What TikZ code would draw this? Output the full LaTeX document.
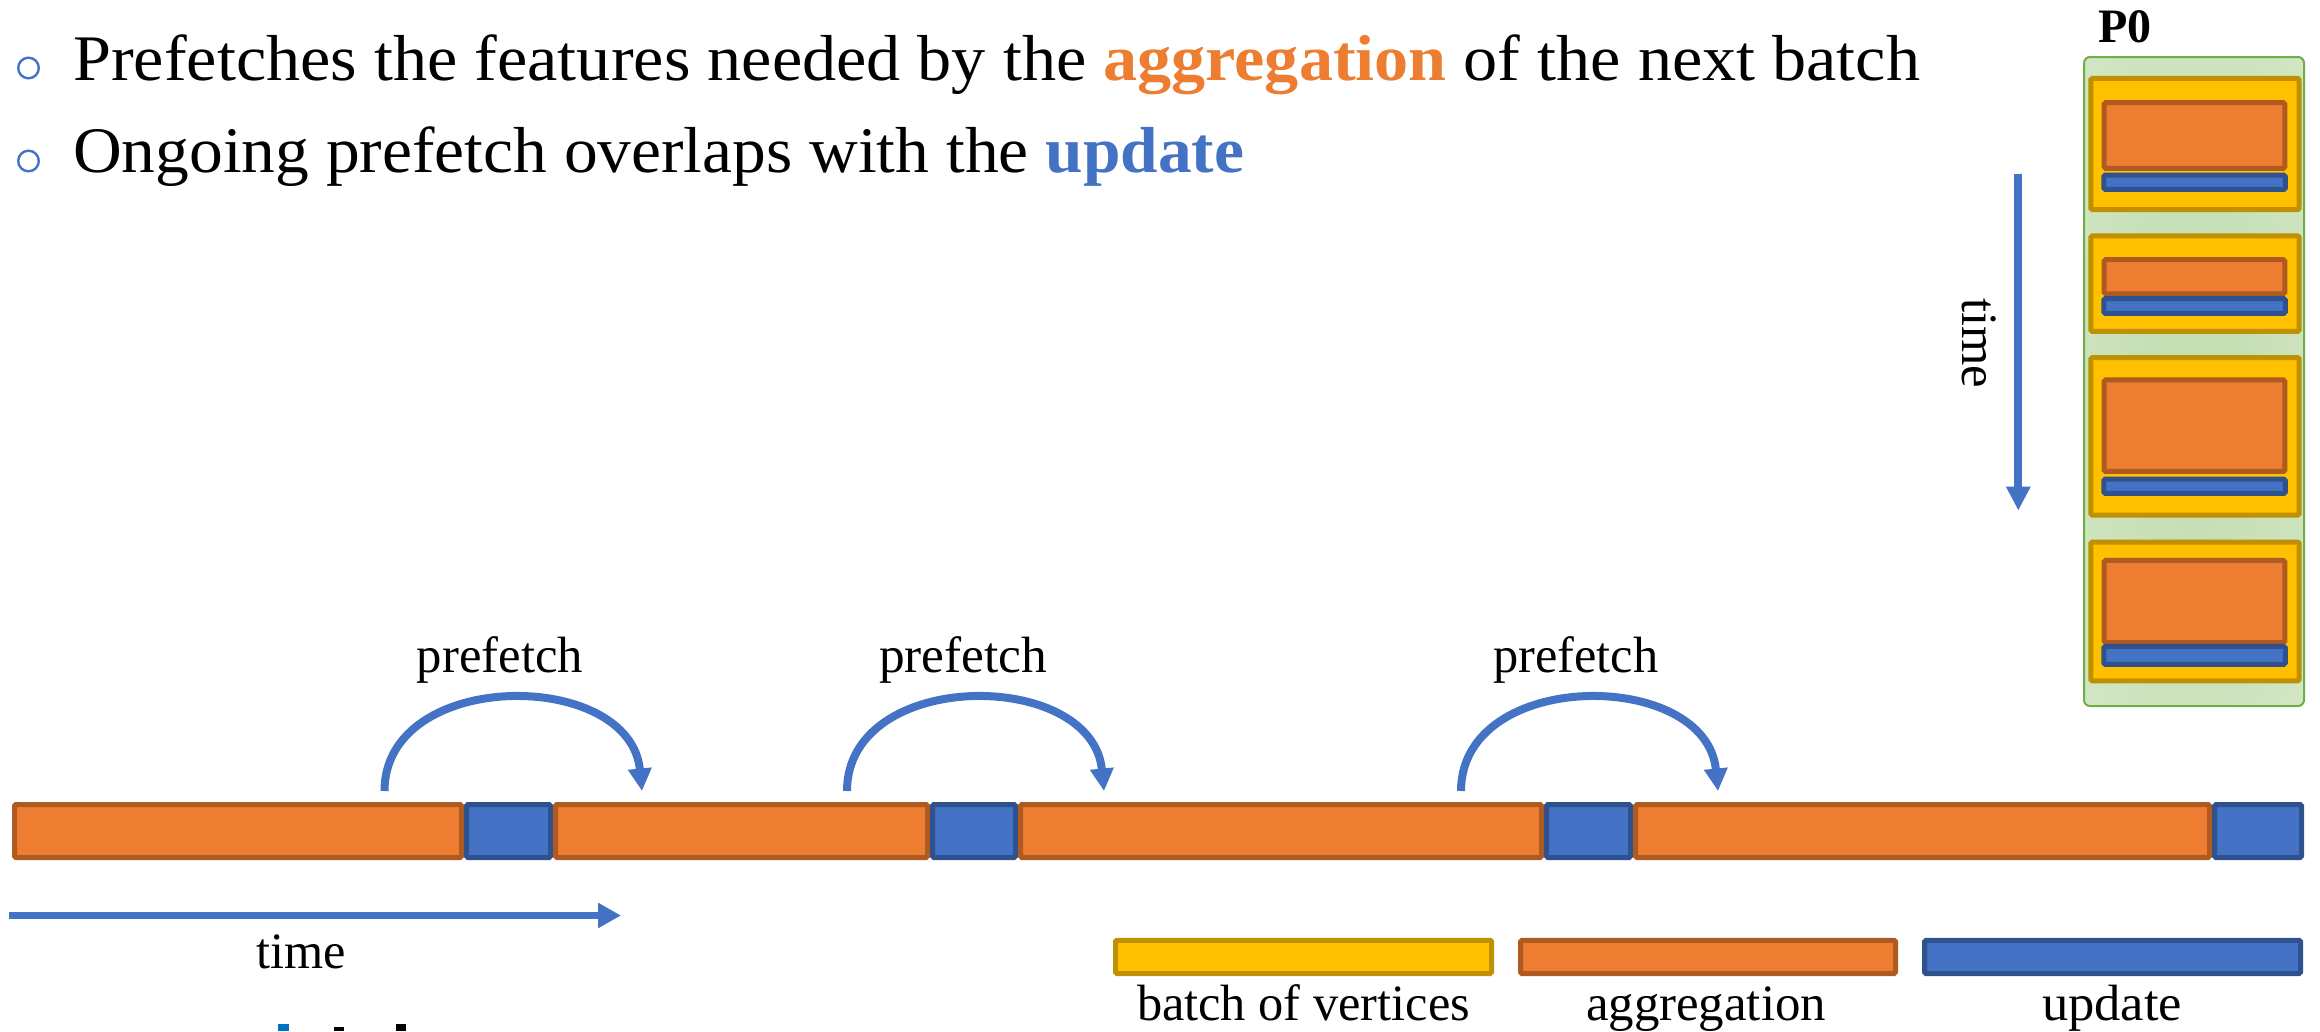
\documentclass[tikz,border=0pt]{standalone}
\usepackage{fontspec}
\setmainfont{Liberation Serif}
\usetikzlibrary{arrows.meta}

\definecolor{aggFill}{HTML}{ED7D31}
\definecolor{aggLine}{HTML}{AE5A21}
\definecolor{updFill}{HTML}{4472C4}
\definecolor{updLine}{HTML}{2F528F}
\definecolor{batFill}{HTML}{FFC000}
\definecolor{batLine}{HTML}{BF9000}
\definecolor{peLine}{HTML}{70AD47}
\definecolor{peOuter}{HTML}{E2F0D9}
\definecolor{peInner}{HTML}{C6DFB5}
\definecolor{cutBlue}{HTML}{0070C0}

% soft centre-to-edge green for the processor frame
\pgfdeclareradialshading{peshade}{\pgfpoint{0bp}{0bp}}{%
  color(0bp)=(peInner); color(10bp)=(peInner); color(72bp)=(peOuter)}

% stretch a text horizontally to a given width, keeping its height
\newcommand\fitw[2]{\resizebox{#1}{\height}{#2}}

\begin{document}
\begin{tikzpicture}[x=1pt,y=-1pt,
  seg/.style={inner sep=0pt, outer sep=0pt, line width=5pt, rounded corners=1.5pt},
  aggbox/.style={seg, draw=aggLine, fill=aggFill},
  updbox/.style={seg, draw=updLine, fill=updFill},
  batbox/.style={seg, draw=batLine, fill=batFill},
  bullettext/.style={anchor=base west, inner sep=0pt, font=\fontsize{65}{78}\selectfont},
  label/.style={inner sep=0pt, font=\fontsize{51}{60}\selectfont},
  flow/.style={draw=updFill, line width=8pt, -{Triangle[length=22.5pt,width=22.5pt]}},
  timearrow/.style={draw=updFill, line width=7.7pt, -{Triangle[length=23pt,width=24pt]}},
  bulletmark/.style={draw=updFill, line width=2.4pt}
]
\useasboundingbox (0,0) rectangle (2320,1031);

% ---- bullet points ----
\draw[bulletmark] (28.5,68) circle[radius=10.3];
\draw[bulletmark] (28.5,161) circle[radius=10.3];
\node[bullettext] (line1) at (73,80)
  {\fitw{1847pt}{Prefetches the features needed by the \textbf{\color{aggFill}aggregation} of the next batch}};
\node[bullettext] (line2) at (73,172)
  {\fitw{1171pt}{Ongoing prefetch overlaps with the \textbf{\color{updFill}update}}};

% ---- processor P0: batches stacked in time ----
\node[font=\fontsize{48}{56}\selectfont\bfseries, anchor=base, inner sep=0pt] (p0) at (2125,42) {P0};
\node[draw=peLine, line width=2pt, rounded corners=6pt, shading=peshade,
      minimum width=220pt, minimum height=649pt, inner sep=0pt] (pe) at (2194,381.5) {};

\node[batbox, minimum width=208.4pt, minimum height=131.3pt] (b1) at (2195,144) {};
\node[batbox, minimum width=208.4pt, minimum height=95.5pt]  (b2) at (2195,283.6) {};
\node[batbox, minimum width=208.4pt, minimum height=157.5pt] (b3) at (2195,436.3) {};
\node[batbox, minimum width=208.4pt, minimum height=138.8pt] (b4) at (2195,611.4) {};

\node[aggbox, minimum width=180.6pt, minimum height=65.7pt] (a1) at (2194.5,135.5) {};
\node[aggbox, minimum width=180.6pt, minimum height=34.1pt] (a2) at (2194.5,276.7) {};
\node[aggbox, minimum width=180.6pt, minimum height=91.5pt] (a3) at (2194.5,425.7) {};
\node[aggbox, minimum width=180.6pt, minimum height=82.2pt] (a4) at (2194.5,601.5) {};

\node[updbox, minimum width=181.5pt, minimum height=14.3pt] (u1) at (2194.5,182.3) {};
\node[updbox, minimum width=181.5pt, minimum height=14.7pt] (u2) at (2194.5,306) {};
\node[updbox, minimum width=181.5pt, minimum height=14.3pt] (u3) at (2194.5,486.3) {};
\node[updbox, minimum width=181.5pt, minimum height=17.9pt] (u4) at (2194.5,655.3) {};

\coordinate (vt0) at (2018.3,173.6);
\coordinate (vt1) at (2018.3,510.6);
\draw[draw=updFill, line width=7.7pt, -{Triangle[length=24pt,width=23pt]}] (vt0) -- (vt1);
\node[label, rotate=-90, anchor=base] (vtime) at (1962,343) {\fitw{90pt}{time}};

% ---- timeline of one processor ----
\node[aggbox, minimum width=447pt, minimum height=53pt] (o1) at (238,831) {};
\node[updbox, minimum width=84pt,  minimum height=53pt] (t1) at (508.5,831) {};
\node[aggbox, minimum width=372pt, minimum height=53pt] (o2) at (741.5,831) {};
\node[updbox, minimum width=83pt,  minimum height=53pt] (t2) at (974,831) {};
\node[aggbox, minimum width=521pt, minimum height=53pt] (o3) at (1281,831) {};
\node[updbox, minimum width=84pt,  minimum height=53pt] (t3) at (1588.5,831) {};
\node[aggbox, minimum width=574pt, minimum height=53pt] (o4) at (1922.5,831) {};
\node[updbox, minimum width=87pt,  minimum height=53pt] (t4) at (2258,831) {};

% prefetch arcs: from the running aggregation into the next one
\coordinate (f1s) at (384.5,791);  \coordinate (f1e) at (642,791);
\coordinate (f2s) at (847,791);    \coordinate (f2e) at (1104,791);
\coordinate (f3s) at (1461,791);   \coordinate (f3e) at (1718,791);
\draw[flow] (f1s) .. controls +(0,-123) and +(-12,-123) .. (f1e);
\draw[flow] (f2s) .. controls +(0,-123) and +(-12,-123) .. (f2e);
\draw[flow] (f3s) .. controls +(0,-123) and +(-12,-123) .. (f3e);
\node[label, anchor=base] (pf1) at (500,672)  {\fitw{166pt}{prefetch}};
\node[label, anchor=base] (pf2) at (963,672)  {\fitw{168pt}{prefetch}};
\node[label, anchor=base] (pf3) at (1576,672) {\fitw{165pt}{prefetch}};

% horizontal time axis
\coordinate (ht0) at (9,915.5);
\coordinate (ht1) at (621,915.5);
\draw[timearrow] (ht0) -- (ht1);
\node[label, anchor=base] (htime) at (301,968) {\fitw{89.5pt}{time}};

% ---- legend ----
\node[batbox, minimum width=376pt, minimum height=33.3pt] (lb) at (1303.5,956.9) {};
\node[aggbox, minimum width=375pt, minimum height=33.3pt] (la) at (1708,956.9) {};
\node[updbox, minimum width=376pt, minimum height=33.3pt] (lu) at (2112.5,956.9) {};
\node[label, anchor=base] (lbt) at (1303.5,1020) {\fitw{333pt}{batch of vertices}};
\node[label, anchor=base] (lat) at (1706,1020)   {\fitw{240pt}{aggregation}};
\node[label, anchor=base] (lut) at (2112,1020)   {\fitw{140pt}{update}};

% tops of glyphs running off the lower edge
\fill[cutBlue] (278.3,1024) rectangle (289,1031);
\fill[black] (334.3,1026.7) rectangle (344.3,1031);
\fill[black] (396,1024) rectangle (405.7,1031);
\end{tikzpicture}
\end{document}
